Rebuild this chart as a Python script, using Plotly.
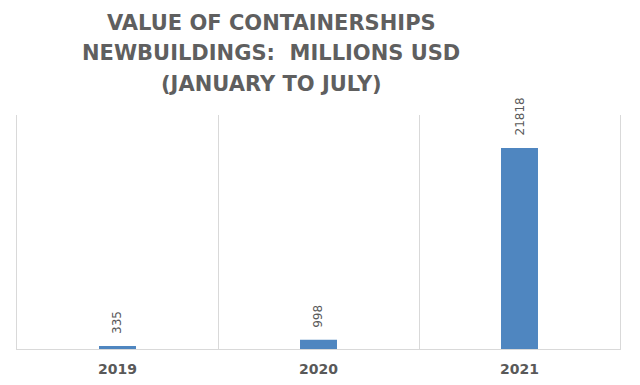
import plotly.graph_objects as go

years = ["2019", "2020", "2021"]
values = [335, 998, 21818]
labels = ["335", "998", "21818"]
title_lines = ["VALUE OF CONTAINERSHIPS", "NEWBUILDINGS:\u00a0 MILLIONS USD", "(JANUARY TO JULY)"]

W, H = 640, 385
OFF = 8  # page body margin offset
L, R, T, B = 17 - OFF, 20 + OFF, 115 - OFF, 36 + OFF
ph = H - T - B
pw = W - L - R

fig = go.Figure()
fig.add_trace(go.Bar(
    x=years, y=values,
    marker=dict(color="#4F86C0", line=dict(width=0)), width=0.184,
    hoverinfo="skip",
))

annotations = []
for i, (v, lab) in enumerate(zip(values, labels)):
    annotations.append(dict(
        x=i, y=v, xref="x", yref="y", text=lab, textangle=-90,
        showarrow=False, xanchor="center", yanchor="bottom", yshift=10,
        font=dict(family="DejaVu Sans", size=12, color="#595959"),
    ))

title_y_px = [23, 53, 84]
for line, ypx in zip(title_lines, title_y_px):
    annotations.append(dict(
        x=(271 - OFF - L) / pw, y=(H - B - (ypx - OFF)) / ph, xref="paper", yref="paper",
        text=line, showarrow=False, xanchor="center", yanchor="middle",
        font=dict(family="DejaVu Sans", size=21, color="#5f5f5f", weight="bold"),
    ))

fig.update_layout(
    width=W, height=H,
    margin=dict(l=L, r=R, t=T, b=B),
    paper_bgcolor="white", plot_bgcolor="white",
    showlegend=False,
    annotations=annotations,
    xaxis=dict(
        type="category", tickson="boundaries", showgrid=True, gridcolor="#d9d9d9", gridwidth=1,
        showline=True, linecolor="#d9d9d9", ticks="", ticklen=0, ticklabelstandoff=7,
        tickfont=dict(family="DejaVu Sans", size=14, color="#595959", weight="bold"),
    ),
    yaxis=dict(range=[0, 25400], showticklabels=False, ticks="", showgrid=False, zeroline=False,
               showline=True, mirror=True, linecolor="#d9d9d9"),
)
fig.write_html("out.html")
